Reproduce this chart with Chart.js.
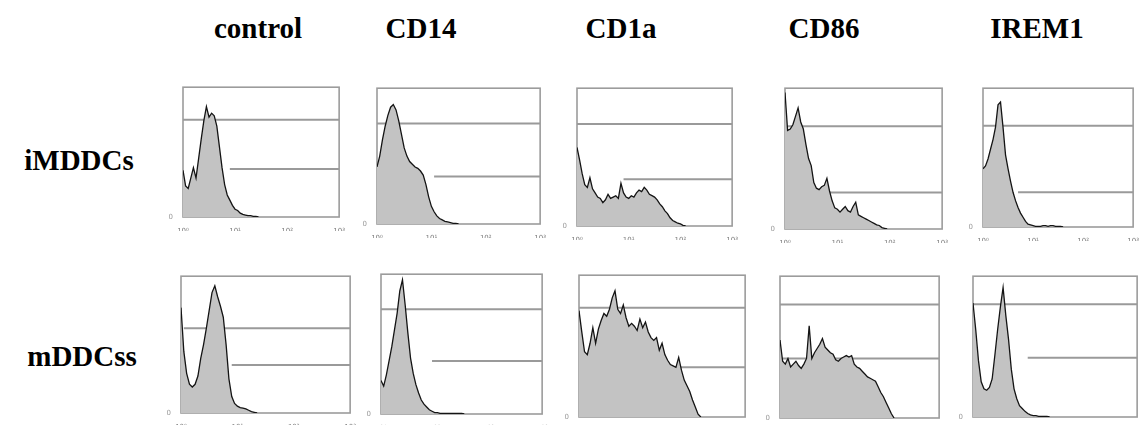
<!DOCTYPE html>
<html>
<head>
<meta charset="utf-8">
<script src="https://cdn.jsdelivr.net/npm/chart.js@4.4.0/dist/chart.umd.min.js"></script>
<style>
  html, body { margin:0; padding:0; background:#fff; width:1142px; height:425px; overflow:hidden; }
  #root { position:relative; width:1142px; height:425px; }
  .title { position:absolute; font-family:"Liberation Serif","Times New Roman",serif; font-weight:bold; font-size:29px; color:#000; white-space:nowrap; transform:translate(-50%,-50%); line-height:1; }
  .panel { position:absolute; }
</style>
</head>
<body>
<div id="root"></div>
<script>
// ---------------- data ----------------
const categories = ['control', 'CD14', 'CD1a', 'CD86', 'IREM1'];
const rowLabels = ['iMDDCs', 'mDDCss'];
const decadeLabels = ['10\u2070', '10\u00B9', '10\u00B2', '10\u00B3'];

// histogram heights (% of panel max) per fluorescence bin (60 bins = 3 decades)
const iMDDC_control = [36,24,22,30,38,30,45,60,74,85,77,80,78,70,54,38,25,17,13,9,6,5,3,2,1.5,1,1,0.5,0.5,0];
const iMDDC_CD14    = [42,50,62,72,80,86,88,84,76,66,56,50,46,44,42,41,39,36,29,20,13,9,6,4,3,2,1.5,1,0.5,0.5,0];
const iMDDC_CD1a    = [57,48,38,30,28,35,27,24,21,20,17,19,23,20,21,22,20,31,24,21,20,22,21,24,26,25,28,26,23,22,21,19,16,14,11,9,6,4,3,2,1.5,0.5,0];
const iMDDC_CD86    = [97,70,71,74,80,86,76,71,60,50,45,33,29,28,30,31,36,27,20,15,14,12,14,16,13,12,16,19,10,9,8,7,6,5,4,3,2.5,1,0.5,0];
const iMDDC_IREM1   = [42,44,49,56,63,72,88,90,72,52,42,33,25,19,14,10,7,4,2,1.5,1,0.5,0.5,0.5,1,1,0.5,1,1,0.5,0.5,0.5,0];
const mDDC_control  = [77,45,29,21,19,21,27,40,50,62,75,88,93,85,78,70,50,25,12,7,5,4,3.5,3,2,1,0.5,0];
const mDDC_CD14     = [24,20,28,38,48,60,72,88,96,78,58,40,29,21,15,10,7,5,3,2,1,1,0.5,0.5,0.5,0.5,0.5,0.5,0.5,0.5,0.5,0];
const mDDC_CD1a     = [75,60,46,44,52,63,52,62,68,73,71,76,84,89,76,73,79,70,64,66,64,61,69,63,67,60,56,54,56,47,52,44,40,37,36,35,42,33,26,22,18,12,7,2,0];
const mDDC_CD86     = [55,40,38,42,36,38,40,37,35,38,42,65,42,46,49,52,56,50,48,46,45,41,40,42,43,44,43,44,38,36,35,33,31,29,28,27,26,22,18,15,11,7,3,0];
const mDDC_IREM1    = [81,62,40,25,20,19,21,27,44,62,78,92,72,55,34,20,13,8,6,4,2.5,1.5,1,1,0.5,0.5,0.5,0.5,0];

// marker bars: [level %, start bin] (all run to the last bin)
const markersTop    = [[[75,0],[37,18]], [[74,0],[35,21]], [[74,0],[34,18]], [[73,0],[26,0]], [[73,0],[25,14]]];
const markersBottom = [[[62,1],[35,18]], [[75,0],[38,19]], [[77,0],[35,16]], [[80,0],[42,0]], [[80,0],[42,20]]];

const seriesTop = [iMDDC_control, iMDDC_CD14, iMDDC_CD1a, iMDDC_CD86, iMDDC_IREM1];
const seriesBottom = [mDDC_control, mDDC_CD14, mDDC_CD1a, mDDC_CD86, mDDC_IREM1];

// ---------------- layout ----------------
const LAST_BIN = 60;
const boxesTop = [[183,86,342,217],[377,87,543,224],[577,87,735,226],[785,87,945,229],[983,87,1136,227]];
const boxesBottom = [[181,275,353,413],[381,273,545,414],[579,274,748,417],[780,275,942,418],[973,275,1140,417]];
const titlePos = [[258,28],[421,28],[621,28],[824,28],[1037,28]];
const rowPos = [[79,160],[82,356]];

const root = document.getElementById('root');

function addText(txt, x, y) {
  const d = document.createElement('div');
  d.className = 'title';
  d.textContent = txt;
  d.style.left = x + 'px';
  d.style.top = y + 'px';
  root.appendChild(d);
}
categories.forEach((c, i) => addText(c, titlePos[i][0], titlePos[i][1]));
rowLabels.forEach((r, i) => addText(r, rowPos[i][0], rowPos[i][1]));

const framePlugin = {
  id: 'frame',
  beforeDatasetsDraw(chart) {
    const a = chart.chartArea, ctx = chart.ctx;
    ctx.save();
    ctx.strokeStyle = '#9c9c9c';
    ctx.lineWidth = 1.6;
    ctx.strokeRect(a.left, a.top, a.right - a.left, a.bottom - a.top);
    ctx.restore();
  }
};

const YW = 16, XH = 14, PT = 5, PR = 5;

function makePanel(box, values, markers) {
  const [L, T, R, B] = box;
  const w = (R - L) + YW + PR, h = (B - T) + PT + XH;
  const div = document.createElement('div');
  div.className = 'panel';
  div.style.left = (L - YW) + 'px';
  div.style.top = (T - PT) + 'px';
  const cv = document.createElement('canvas');
  cv.width = w; cv.height = h;
  cv.style.width = w + 'px'; cv.style.height = h + 'px';
  div.appendChild(cv);
  root.appendChild(div);

  const datasets = [];
  markers.forEach(m => {
    datasets.push({
      data: [{ x: m[1], y: m[0] }, { x: LAST_BIN, y: m[0] }],
      borderColor: '#9a9a9a',
      borderWidth: 2,
      fill: false,
      pointRadius: 0,
      order: 2
    });
  });
  datasets.push({
    data: values.map((v, i) => ({ x: i, y: v })),
    borderColor: '#141414',
    borderWidth: 1.3,
    backgroundColor: '#c3c3c3',
    fill: 'origin',
    pointRadius: 0,
    tension: 0,
    order: 1
  });

  new Chart(cv, {
    type: 'line',
    data: { datasets },
    plugins: [framePlugin],
    options: {
      responsive: false,
      animation: false,
      events: [],
      layout: { padding: { top: PT, right: PR, left: 0, bottom: 0 } },
      plugins: { legend: { display: false }, tooltip: { enabled: false } },
      scales: {
        x: {
          type: 'linear', min: 0, max: LAST_BIN,
          grid: { display: false }, border: { display: false },
          afterFit(s) { s.height = XH; },
          ticks: {
            stepSize: 20, maxRotation: 0, autoSkip: false, padding: 2,
            font: { family: 'DejaVu Sans', size: 7 }, color: '#7a7a7a',
            callback: v => decadeLabels[Math.round(v / 20)]
          }
        },
        y: {
          min: 0, max: 100,
          grid: { display: false }, border: { display: false },
          afterFit(s) { s.width = YW; },
          afterBuildTicks(s) { s.ticks = [{ value: 0 }]; },
          ticks: {
            padding: 2,
            font: { family: 'DejaVu Sans', size: 7 }, color: '#9a9a9a',
            callback: v => String(v)
          }
        }
      }
    }
  });
}

seriesTop.forEach((s, i) => makePanel(boxesTop[i], s, markersTop[i]));
seriesBottom.forEach((s, i) => makePanel(boxesBottom[i], s, markersBottom[i]));
</script>
</body>
</html>
